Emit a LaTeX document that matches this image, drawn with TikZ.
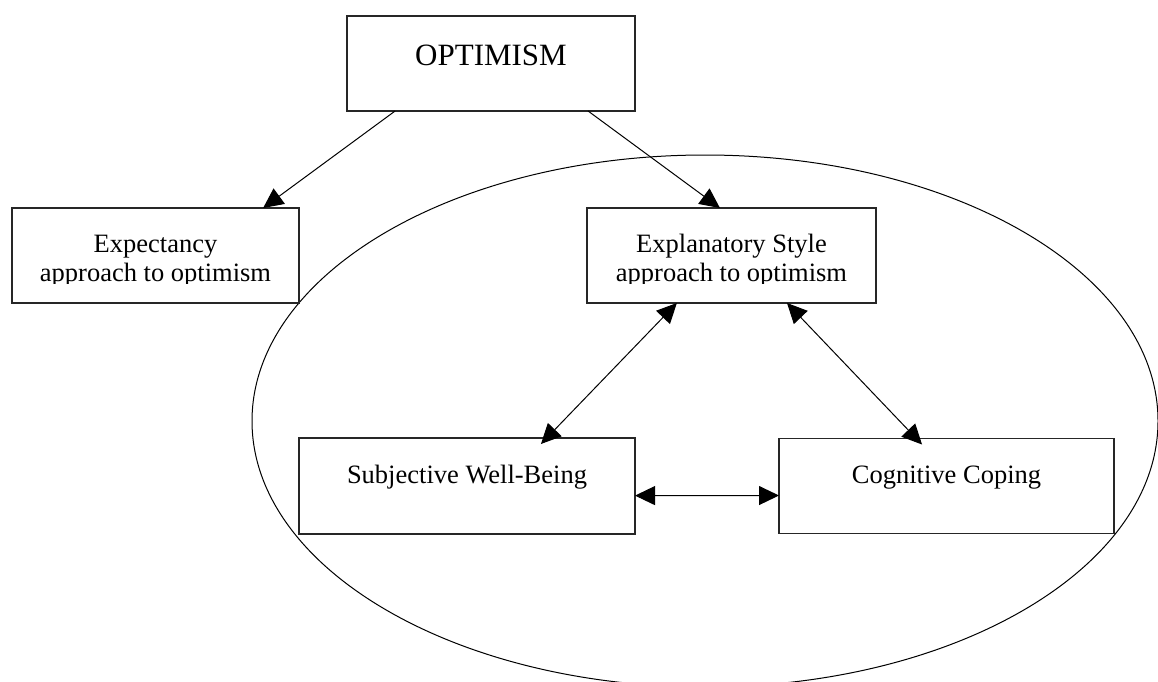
\documentclass[tikz,border=0pt]{standalone}
\usepackage{fontspec}
\setmainfont{Liberation Serif}
\usetikzlibrary{arrows.meta,calc,shapes.geometric}
\tikzset{
  boxnode/.style={draw=black!85, line width=1.3pt, fill=white, inner sep=0pt, outer sep=0pt},
  txt/.style={anchor=base, inner sep=0pt, font=\fontsize{26.5}{30}\selectfont},
  bigtxt/.style={anchor=base, inner sep=0pt, font=\fontsize{31}{36}\selectfont},
  tipshape/.style={},
  arr/.style={line width=1pt, -{Triangle[length=20pt,width=19pt]}},
  dbl/.style={line width=1pt, {Triangle[length=20pt,width=19pt]}-{Triangle[length=20pt,width=19pt]}},
  grpshape/.style={draw, ellipse, line width=1pt, inner sep=0pt, outer sep=0pt, minimum width=906pt, minimum height=532pt}
}
\begin{document}
\begin{tikzpicture}[x=1pt,y=-1pt]
\useasboundingbox (0,0) rectangle (1158,681);
\clip (0,0) rectangle (1158,681);
\fill[white] (0,0) rectangle (1158,681);
% group ellipse
\node[grpshape] (grp) at (705,421) {};
% boxes
\node[boxnode, minimum width=288pt, minimum height=95pt] (opt) at (491,63.5) {};
\node[boxnode, minimum width=287pt, minimum height=95pt] (exp) at (155.5,255.5) {};
\node[boxnode, minimum width=289pt, minimum height=95pt] (expl) at (731.5,255.5) {};
\node[boxnode, minimum width=336pt, minimum height=96pt] (swb) at (467,486) {};
\node[boxnode, minimum width=335pt, minimum height=95pt] (cc) at (946.5,486) {};
% texts
\node[bigtxt] (optT) at (491,65) {OPTIMISM};
\begin{scope}
  \clip (12,208) rectangle (299,283.5);
  \node[txt] (expA) at (155.5,252) {Expectancy};
  \node[txt] (expB) at (155.5,281.5) {approach to optimism};
\end{scope}
\begin{scope}
  \clip (587,208) rectangle (876,283.5);
  \node[txt] (explA) at (731.5,252) {Explanatory Style};
  \node[txt] (explB) at (731.5,281.5) {approach to optimism};
\end{scope}
\node[txt] (swbT) at (467,483) {Subjective Well-Being};
\node[txt] (ccT) at (946.5,483) {Cognitive Coping};
% connector end points
\coordinate (optL) at ($(opt.south west)!0.167!(opt.south east)$);
\coordinate (optR) at ($(opt.south west)!0.837!(opt.south east)$);
\coordinate (expTop) at ($(exp.north west)!0.875!(exp.north east)$);
\coordinate (explTop) at ($(expl.north west)!0.46!(expl.north east)$);
\coordinate (explBL) at ($(expl.south west)!0.311!(expl.south east)$);
\coordinate (explBR) at ($(expl.south west)!0.692!(expl.south east)$);
\coordinate (swbTop) at ($(swb.north west)!0.72!(swb.north east)+(0,6)$);
\coordinate (ccTop) at ($(cc.north west)!0.427!(cc.north east)+(0,6)$);
\coordinate (swbR) at ($(swb.north east)!0.6!(swb.south east)$);
\coordinate (ccL) at ($(cc.north west)!0.6!(cc.south west)$);
% connectors
\draw[arr] (optL) -- (expTop);
\draw[arr] (optR) -- (explTop);
\draw[dbl] (explBL) -- (swbTop);
\draw[dbl] (explBR) -- (ccTop);
\draw[dbl] (swbR) -- (ccL);
\end{tikzpicture}
\end{document}
